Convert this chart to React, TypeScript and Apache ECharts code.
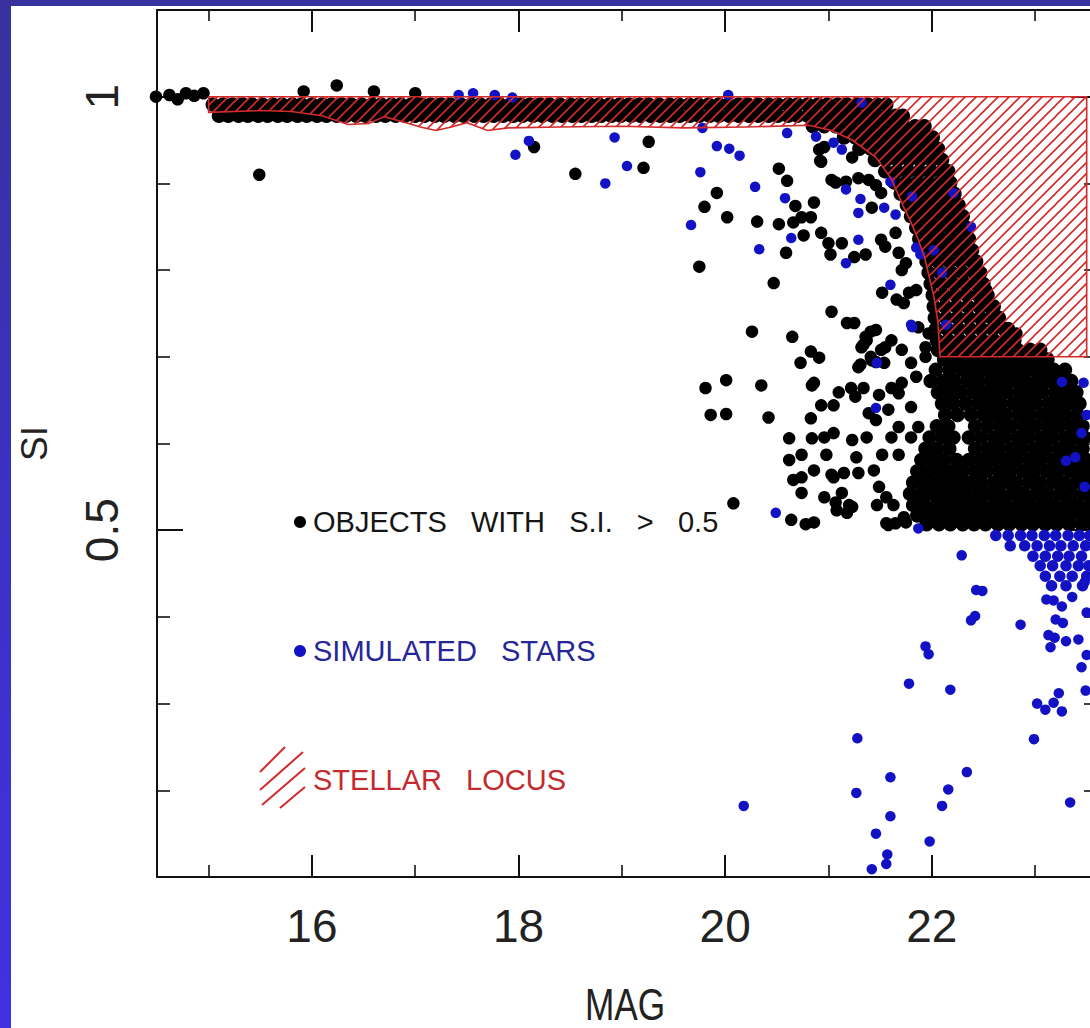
import React, { useEffect, useRef } from "react";
import * as echarts from "echarts";

// ---------- axis ticks / labels ----------
const xRange = [14.5, 23.6];
const yRange = [0.1, 1.1];
const xTickMajor = [16, 18, 20, 22];
const xTickMinor = [15, 17, 19, 21, 23];
const yTickMajor = [0.5, 1];
const yTickMinor = [0.2, 0.3, 0.4, 0.6, 0.7, 0.8, 0.9];
const xName = "MAG";
const yName = "SI";
const legendLabels = ["OBJECTS   WITH   S.I.   >   0.5", "SIMULATED   STARS", "STELLAR   LOCUS"];

// ---------- objects with S.I. > 0.5 (black) ----------
const blackScatter: [number, number][] = [
  [14.49, 1.0], [14.62, 1.002], [14.7, 0.997], [14.78, 1.004], [14.86, 1.001], [14.95, 1.004],
  [15.49, 0.91], [15.92, 1.006], [16.24, 1.013], [16.6, 1.006], [17.0, 1.004],
  [18.15, 0.942], [18.55, 0.911], [19.26, 0.948], [19.21, 0.918],
  [19.92, 0.889], [19.8, 0.873], [20.02, 0.861], [20.31, 0.856], [20.52, 0.917], [20.6, 0.903],
  [20.92, 0.926], [20.96, 0.942], [20.68, 0.874], [20.86, 0.878], [20.74, 0.861], [20.83, 0.861],
  [20.52, 0.853], [20.66, 0.855], [20.76, 0.84], [20.93, 0.843], [21.0, 0.831], [21.13, 0.831],
  [20.59, 0.82], [21.03, 0.904], [21.17, 0.902], [21.23, 0.93], [19.75, 0.804], [20.47, 0.785],
  [21.02, 0.818], [21.25, 0.815], [21.36, 0.818], [20.91, 0.939], [20.93, 0.925], [21.07, 0.901],
  [21.29, 0.906], [21.39, 0.904], [21.46, 0.898], [21.51, 0.889], [21.42, 0.872],
  [21.51, 0.835], [21.55, 0.827], [21.65, 0.843], [21.68, 0.82], [21.75, 0.808], [21.71, 0.8],
  [21.52, 0.774], [21.66, 0.766], [21.73, 0.762], [21.78, 0.774], [21.85, 0.777], [21.03, 0.752],
  [21.18, 0.739], [21.25, 0.739], [21.41, 0.729], [21.46, 0.731], [21.36, 0.723], [21.32, 0.711],
  [20.26, 0.729], [20.65, 0.723], [20.83, 0.706], [20.73, 0.693], [20.91, 0.699], [21.29, 0.688],
  [21.42, 0.696], [21.51, 0.708], [21.61, 0.719], [21.54, 0.693], [20.01, 0.673], [20.35, 0.667],
  [19.81, 0.664], [20.84, 0.667], [21.1, 0.659], [21.22, 0.664], [21.34, 0.664], [21.26, 0.654],
  [21.49, 0.656], [21.61, 0.664], [21.71, 0.67], [21.85, 0.677], [21.94, 0.7], [21.87, 0.734],
  [21.97, 0.727], [21.94, 0.711], [22.82, 0.727], [22.53, 0.777],
  [19.86, 0.633], [20.01, 0.634], [20.42, 0.63], [20.62, 0.581], [20.08, 0.531], [20.64, 0.512],
  [20.78, 0.507], [20.86, 0.509], [21.18, 0.52], [21.23, 0.527], [21.47, 0.529], [21.58, 0.506],
  [21.65, 0.508], [21.73, 0.515], [20.62, 0.606], [20.83, 0.629], [20.96, 0.607], [20.74, 0.587],
  [20.98, 0.587], [20.86, 0.569], [21.03, 0.564], [20.66, 0.558], [20.96, 0.538], [21.08, 0.523],
  [20.86, 0.67], [21.31, 0.691], [21.41, 0.7], [21.46, 0.694], [21.34, 0.714], [21.37, 0.719],
  [21.55, 0.711], [21.71, 0.708], [21.8, 0.693], [20.93, 0.644], [21.05, 0.644], [21.68, 0.658],
  [21.8, 0.642], [21.39, 0.635], [21.46, 0.627], [21.58, 0.639], [20.84, 0.606], [21.05, 0.612],
  [21.23, 0.604], [21.27, 0.584], [21.52, 0.587], [21.68, 0.587], [21.37, 0.607], [21.61, 0.607],
  [21.68, 0.619], [21.8, 0.607], [21.87, 0.619], [20.74, 0.561], [20.74, 0.543], [21.05, 0.561],
  [21.15, 0.566], [21.13, 0.543], [21.07, 0.532], [21.29, 0.566], [21.44, 0.569], [21.49, 0.55],
  [21.56, 0.538], [21.63, 0.529], [21.75, 0.509], [21.2, 0.529], [21.56, 0.508], [21.85, 0.538],
];

// dense sequence along the stellar locus, read row by row: [SI, magnitudes]
const blackBandRows: [number, number[]][] = [
  [0.991, [15.04, 15.14, 15.23, 15.33, 15.42, 15.52, 15.62, 15.71, 15.81, 15.9, 16.0, 16.1, 16.19, 16.29, 16.38, 16.48, 16.58, 16.67, 16.77, 16.86, 16.96, 17.06, 17.15, 17.25, 17.34, 17.44, 17.54, 17.63, 17.73, 17.82, 17.92, 18.02, 18.11, 18.21, 18.3, 18.4, 18.5, 18.59, 18.69, 18.78, 18.88, 18.98, 19.07, 19.17, 19.26, 19.36, 19.46, 19.55, 19.65, 19.74, 19.84, 19.94, 20.03, 20.13, 20.22, 20.32, 20.42, 20.51, 20.61, 20.7, 20.8, 20.9, 20.99, 21.09, 21.18, 21.28, 21.38, 21.47, 21.56]],
  [0.978, [15.1, 15.19, 15.29, 15.38, 15.48, 15.57, 15.67, 15.76, 15.86, 15.95, 16.05, 16.14, 16.24, 16.33, 16.43, 16.52, 16.62, 16.71, 16.81, 16.9, 17.0, 17.09, 17.19, 17.28, 17.38, 17.47, 17.57, 17.66, 17.76, 17.85, 17.95, 18.04, 18.14, 18.23, 18.33, 18.42, 18.52, 18.61, 18.71, 18.8, 18.9, 18.99, 19.09, 19.18, 19.28, 19.37, 19.47, 19.56, 19.66, 19.75, 19.85, 19.94, 20.04, 20.13, 20.23, 20.32, 20.42, 20.51, 20.61, 20.7, 20.8, 20.89, 20.99, 21.08, 21.18, 21.27, 21.37, 21.46, 21.56, 21.65, 21.72]],
  [0.966, [20.85, 20.96, 21.07, 21.18, 21.29, 21.4, 21.51, 21.62, 21.73, 21.84, 21.93]],
  [0.953, [21.15, 21.26, 21.37, 21.48, 21.59, 21.7, 21.81, 21.92, 22.01]],
  [0.94, [21.3, 21.41, 21.52, 21.63, 21.74, 21.85, 21.96, 22.06]],
  [0.927, [21.45, 21.56, 21.67, 21.78, 21.89, 22.0, 22.1]],
  [0.914, [21.55, 21.66, 21.77, 21.88, 21.99, 22.1, 22.16]],
  [0.901, [21.64, 21.75, 21.86, 21.97, 22.08, 22.18]],
  [0.888, [21.7, 21.81, 21.92, 22.03, 22.14, 22.22]],
  [0.875, [21.76, 21.87, 21.98, 22.09, 22.2, 22.26]],
  [0.862, [21.8, 21.91, 22.02, 22.13, 22.24, 22.3]],
  [0.849, [21.85, 21.96, 22.07, 22.18, 22.29, 22.33]],
  [0.836, [21.88, 21.99, 22.1, 22.21, 22.32, 22.36]],
  [0.823, [21.92, 22.03, 22.14, 22.25, 22.36, 22.39]],
  [0.81, [21.95, 22.06, 22.17, 22.28, 22.39, 22.43]],
  [0.797, [21.97, 22.08, 22.19, 22.3, 22.41, 22.47]],
  [0.784, [21.99, 22.1, 22.21, 22.32, 22.43, 22.5]],
  [0.771, [22.01, 22.12, 22.23, 22.34, 22.45, 22.54]],
  [0.758, [22.02, 22.13, 22.24, 22.35, 22.46, 22.56, 22.6]],
  [0.745, [22.03, 22.14, 22.25, 22.36, 22.47, 22.58, 22.65]],
  [0.732, [22.04, 22.15, 22.26, 22.37, 22.48, 22.59, 22.7, 22.74]],
  [0.719, [22.05, 22.16, 22.27, 22.38, 22.49, 22.6, 22.71, 22.8]],
  [0.708, [22.06, 22.17, 22.28, 22.39, 22.5, 22.61, 22.72, 22.83, 22.95, 23.05]],
];

// dense clump of faint objects: [SI, magnitudes]
const blackBlobRows: [number, number[]][] = [
  [0.697, [22.12, 22.23, 22.35, 22.46, 22.56, 22.68, 22.79, 22.9, 23.0, 23.12]],
  [0.685, [22.04, 22.17, 22.29, 22.4, 22.51, 22.62, 22.74, 22.85, 22.95, 23.07, 23.18, 23.29]],
  [0.672, [21.99, 22.11, 22.22, 22.34, 22.45, 22.57, 22.68, 22.79, 22.9, 23.02, 23.13, 23.24, 23.35]],
  [0.659, [22.06, 22.17, 22.28, 22.4, 22.51, 22.62, 22.73, 22.85, 22.96, 23.07, 23.19, 23.3, 23.4]],
  [0.646, [22.1, 22.21, 22.33, 22.45, 22.56, 22.67, 22.79, 22.9, 23.01, 23.13, 23.24, 23.35, 23.43]],
  [0.633, [22.13, 22.25, 22.38, 22.5, 22.61, 22.72, 22.84, 22.95, 23.07, 23.18, 23.29, 23.41]],
  [0.62, [22.05, 22.16, 22.42, 22.54, 22.66, 22.77, 22.89, 23.0, 23.12, 23.23, 23.35, 23.46]],
  [0.607, [21.98, 22.1, 22.21, 22.36, 22.48, 22.6, 22.71, 22.83, 22.94, 23.06, 23.17, 23.29, 23.4, 23.48]],
  [0.594, [21.94, 22.05, 22.17, 22.42, 22.54, 22.65, 22.77, 22.88, 23.0, 23.11, 23.23, 23.34, 23.46]],
  [0.581, [21.9, 22.01, 22.12, 22.24, 22.36, 22.48, 22.59, 22.71, 22.82, 22.94, 23.05, 23.17, 23.28, 23.4, 23.5]],
  [0.568, [21.86, 21.97, 22.08, 22.19, 22.3, 22.42, 22.53, 22.65, 22.76, 22.88, 22.99, 23.11, 23.22, 23.34, 23.45, 23.53]],
  [0.555, [21.82, 21.93, 22.04, 22.15, 22.26, 22.37, 22.48, 22.6, 22.71, 22.82, 22.94, 23.05, 23.17, 23.28, 23.4, 23.51]],
  [0.542, [21.79, 21.9, 22.0, 22.11, 22.22, 22.33, 22.44, 22.55, 22.66, 22.78, 22.89, 23.01, 23.12, 23.24, 23.35, 23.47, 23.56]],
  [0.529, [21.82, 21.93, 22.05, 22.16, 22.27, 22.38, 22.49, 22.61, 22.72, 22.84, 22.95, 23.07, 23.18, 23.3, 23.41, 23.53]],
  [0.517, [21.86, 21.97, 22.09, 22.2, 22.31, 22.43, 22.54, 22.65, 22.77, 22.88, 23.0, 23.11, 23.23, 23.34, 23.46, 23.57]],
  [0.507, [21.95, 22.07, 22.18, 22.3, 22.41, 22.52, 22.64, 22.75, 22.87, 22.98, 23.1, 23.21, 23.33, 23.45, 23.56]],
];

// ---------- simulated stars (blue) ----------
const blueScatter: [number, number][] = [
  [17.42, 1.002], [17.56, 1.004], [17.77, 1.002], [17.94, 0.999], [20.03, 1.002], [21.32, 0.993], [19.78, 0.964],
  [18.1, 0.949], [17.97, 0.933], [18.93, 0.953], [19.05, 0.92], [18.84, 0.9], [19.76, 0.913],
  [19.92, 0.943], [20.04, 0.94], [20.14, 0.932], [19.67, 0.852], [20.29, 0.896], [20.58, 0.883],
  [20.6, 0.958], [20.33, 0.824], [20.64, 0.837], [20.88, 0.954], [21.05, 0.947], [21.13, 0.939],
  [21.17, 0.893], [21.29, 0.866], [21.31, 0.882], [21.54, 0.872], [21.6, 0.902], [21.65, 0.864],
  [21.29, 0.835], [21.17, 0.808], [21.6, 0.783], [21.8, 0.737], [21.89, 0.818], [21.81, 0.885],
  [22.38, 0.85], [22.21, 0.889], [21.85, 0.826], [22.1, 0.797], [22.14, 0.737], [21.81, 0.734],
  [22.02, 0.823], [23.26, 0.671], [21.46, 0.641], [21.87, 0.502], [21.47, 0.693], [23.39, 0.584],
  [23.5, 0.633], [23.3, 0.58], [23.47, 0.67], [23.48, 0.55], [23.45, 0.612],
  [20.49, 0.52], [22.29, 0.471], [22.43, 0.431], [22.49, 0.43], [22.38, 0.396], [22.42, 0.401],
  [22.86, 0.391], [21.94, 0.366], [21.97, 0.357], [21.78, 0.323], [22.18, 0.316], [23.11, 0.42],
  [23.18, 0.419], [23.26, 0.412], [23.36, 0.423], [23.2, 0.397], [23.27, 0.393], [23.13, 0.379],
  [23.19, 0.376], [23.15, 0.365], [23.3, 0.372], [23.42, 0.374], [23.45, 0.342], [23.23, 0.312],
  [23.18, 0.301], [23.1, 0.293], [23.26, 0.291], [23.02, 0.3], [22.99, 0.259], [23.34, 0.186],
  [21.28, 0.26], [21.6, 0.215], [21.27, 0.197], [22.34, 0.221], [22.16, 0.201], [22.1, 0.182],
  [21.6, 0.17], [21.46, 0.15], [21.98, 0.141], [21.57, 0.126], [21.56, 0.115], [21.42, 0.109],
  [20.18, 0.182], [23.5, 0.356], [23.49, 0.315], [23.5, 0.405], [23.48, 0.44],
];

// dense part of the simulated stars: [SI, magnitudes]
const blueDenseRows: [number, number[]][] = [
  [0.494, [22.62, 22.74, 22.86, 22.97, 23.09, 23.2, 23.32, 23.43, 23.53]],
  [0.482, [22.76, 22.9, 23.02, 23.14, 23.25, 23.37, 23.49]],
  [0.47, [22.98, 23.1, 23.22, 23.33, 23.45]],
  [0.459, [23.05, 23.17, 23.3, 23.42, 23.52]],
  [0.447, [23.1, 23.24, 23.36, 23.5]],
  [0.436, [23.16, 23.3, 23.46]],
];

// ---------- stellar locus outline ----------
const locusMag = [15.0, 23.5, 23.5, 22.08, 22.06, 22.02, 21.98, 21.93, 21.87, 21.8, 21.72, 21.61, 21.46, 21.23, 21.03, 20.81, 20.2, 19.6, 19.0, 18.4, 17.9, 17.7, 17.5, 17.35, 17.2, 17.05, 16.85, 16.7, 16.55, 16.35, 16.1, 15.8, 15.5, 15.0];
const locusSI = [1.0, 1.0, 0.7, 0.7, 0.74, 0.77, 0.79, 0.815, 0.835, 0.855, 0.875, 0.905, 0.93, 0.95, 0.961, 0.967, 0.965, 0.964, 0.966, 0.965, 0.964, 0.961, 0.97, 0.965, 0.961, 0.965, 0.972, 0.977, 0.969, 0.968, 0.978, 0.983, 0.984, 0.982];

const flattenRows = (rows: [number, number[]][]) =>
  rows.flatMap(([si, mags]) => mags.map((m) => [m, si] as [number, number]));

const RED = "#d22a2a";
const LABEL_FONT = "'Liberation Sans', Arial, sans-serif";

function makeHatch(): HTMLCanvasElement {
  const s = 11;
  const c = document.createElement("canvas");
  c.width = s;
  c.height = s;
  const ctx = c.getContext("2d")!;
  ctx.strokeStyle = RED;
  ctx.lineWidth = 1.6;
  ctx.beginPath();
  ctx.moveTo(0, s);
  ctx.lineTo(s, 0);
  ctx.moveTo(-2, 2);
  ctx.lineTo(2, -2);
  ctx.moveTo(s - 2, s + 2);
  ctx.lineTo(s + 2, s - 2);
  ctx.stroke();
  return c;
}

export default function App() {
  const ref = useRef<HTMLDivElement>(null);

  useEffect(() => {
    if (!ref.current) return;
    const chart = echarts.init(ref.current, undefined, { renderer: "svg" });
    const hatch = makeHatch();
    const pattern: any = { image: hatch, repeat: "repeat", imageWidth: 11, imageHeight: 11 };

    const blackDense = [...flattenRows(blackBandRows), ...flattenRows(blackBlobRows)];
    const blueDense = flattenRows(blueDenseRows);

    const gridBox = { left: 146, right: 14, top: 4, bottom: 151, containLabel: false, outerBoundsMode: "none" };
    const axisLine = { show: true, lineStyle: { color: "#111", width: 2 } };
    const noLine = { show: false };

    const xBase = (gridIndex: number, position: string) => ({
      type: "value",
      gridIndex,
      position,
      min: xRange[0],
      max: xRange[1],
      splitLine: { show: false },
    });
    const yBase = (gridIndex: number, position: string) => ({
      type: "value",
      gridIndex,
      position,
      min: yRange[0],
      max: yRange[1],
      splitLine: { show: false },
    });

    const scatter = (name: string, data: [number, number][], size: number, color: string, z: number) => ({
      type: "scatter",
      name,
      xAxisIndex: 0,
      yAxisIndex: 0,
      data,
      symbol: "circle",
      symbolSize: size,
      clip: false,
      itemStyle: { color, opacity: 1 },
      z,
    });

    chart.setOption({
      animation: false,
      backgroundColor: "#ffffff",
      grid: [gridBox, { ...gridBox }],
      xAxis: [
        {
          ...xBase(0, "bottom"),
          axisLine,
          axisTick: { inside: true, length: 22, customValues: xTickMajor, lineStyle: { color: "#111", width: 2 } },
          axisLabel: { customValues: xTickMajor, fontSize: 46, fontFamily: LABEL_FONT, color: "#222", margin: 26 },
        },
        {
          ...xBase(0, "top"),
          axisLine,
          axisTick: { inside: true, length: 22, customValues: xTickMajor, lineStyle: { color: "#111", width: 2 } },
          axisLabel: { show: false },
        },
        {
          ...xBase(1, "bottom"),
          axisLine: noLine,
          axisTick: { inside: true, length: 12, customValues: xTickMinor, lineStyle: { color: "#111", width: 1.6 } },
          axisLabel: { show: false },
        },
        {
          ...xBase(1, "top"),
          axisLine: noLine,
          axisTick: { inside: true, length: 11, customValues: xTickMinor, lineStyle: { color: "#111", width: 1.6 } },
          axisLabel: { show: false },
        },
      ],
      yAxis: [
        {
          ...yBase(0, "left"),
          axisLine,
          axisTick: { inside: true, length: 26, customValues: yTickMajor, lineStyle: { color: "#111", width: 2 } },
          axisLabel: { customValues: yTickMajor, rotate: 90, fontSize: 46, fontFamily: LABEL_FONT, color: "#222", margin: 32 },
          name: yName,
          nameLocation: "middle",
          nameRotate: 90,
          nameGap: 104,
          nameTextStyle: { fontSize: 37, fontFamily: LABEL_FONT, color: "#222" },
        },
        {
          ...yBase(0, "right"),
          axisLine,
          axisTick: { inside: true, length: 26, customValues: yTickMajor, lineStyle: { color: "#111", width: 2 } },
          axisLabel: { show: false },
        },
        {
          ...yBase(1, "left"),
          axisLine: noLine,
          axisTick: { inside: true, length: 13, customValues: yTickMinor, lineStyle: { color: "#111", width: 1.6 } },
          axisLabel: { show: false },
        },
        {
          ...yBase(1, "right"),
          axisLine: noLine,
          axisTick: { inside: true, length: 13, customValues: yTickMinor, lineStyle: { color: "#111", width: 1.6 } },
          axisLabel: { show: false },
        },
      ],
      series: [
        scatter("objects", blackScatter, 12.5, "#000000", 2),
        scatter("objects dense", blackDense, 14.5, "#000000", 2),
        scatter("simulated", blueScatter, 10.5, "#1212c4", 3),
        scatter("simulated dense", blueDense, 11.5, "#1212c4", 3),
        {
          type: "custom",
          name: "locus",
          xAxisIndex: 0,
          yAxisIndex: 0,
          data: [[locusMag[0], locusSI[0]]],
          z: 4,
          renderItem: (_params: any, api: any) => {
            const pts = locusMag.map((m, i) => api.coord([m, locusSI[i]]));
            return {
              type: "polygon",
              shape: { points: pts },
              style: { fill: pattern, stroke: RED, lineWidth: 1.6 },
            };
          },
        },
      ],
      graphic: [
        {
          type: "text",
          x: 614,
          y: 999,
          scaleX: 0.8,
          originX: 0,
          style: { text: xName, fontSize: 44, fontFamily: LABEL_FONT, fill: "#222", align: "center", verticalAlign: "middle" },
        },
        { type: "circle", shape: { cx: 289, cy: 516, r: 6 }, style: { fill: "#000" } },
        {
          type: "text",
          x: 302,
          y: 516,
          style: { text: legendLabels[0], fontSize: 29, fontFamily: LABEL_FONT, fill: "#151515", verticalAlign: "middle" },
        },
        { type: "circle", shape: { cx: 289, cy: 645, r: 6 }, style: { fill: "#1212c4" } },
        {
          type: "text",
          x: 302,
          y: 645,
          style: { text: legendLabels[1], fontSize: 29, fontFamily: LABEL_FONT, fill: "#26269a", verticalAlign: "middle" },
        },
        { type: "line", shape: { x1: 249, y1: 766, x2: 274, y2: 741 }, style: { stroke: RED, lineWidth: 2 } },
        { type: "line", shape: { x1: 249, y1: 784, x2: 292, y2: 746 }, style: { stroke: RED, lineWidth: 2 } },
        { type: "line", shape: { x1: 251, y1: 799, x2: 294, y2: 762 }, style: { stroke: RED, lineWidth: 2 } },
        { type: "line", shape: { x1: 269, y1: 802, x2: 294, y2: 781 }, style: { stroke: RED, lineWidth: 2 } },
        {
          type: "text",
          x: 302,
          y: 774,
          style: { text: legendLabels[2], fontSize: 29, fontFamily: LABEL_FONT, fill: "#c42a2e", verticalAlign: "middle" },
        },
      ],
    });

    return () => chart.dispose();
  }, []);

  return (
    <div
      style={{
        position: "fixed",
        left: 0,
        top: 0,
        width: 1090,
        height: 1028,
        overflow: "hidden",
        background: "linear-gradient(180deg, #37329e 0%, #3c31c4 50%, #4131e0 100%)",
      }}
    >
      <div
        ref={ref}
        style={{ position: "absolute", left: 11, top: 6, width: 1100, height: 1022, background: "#ffffff" }}
      />
    </div>
  );
}
